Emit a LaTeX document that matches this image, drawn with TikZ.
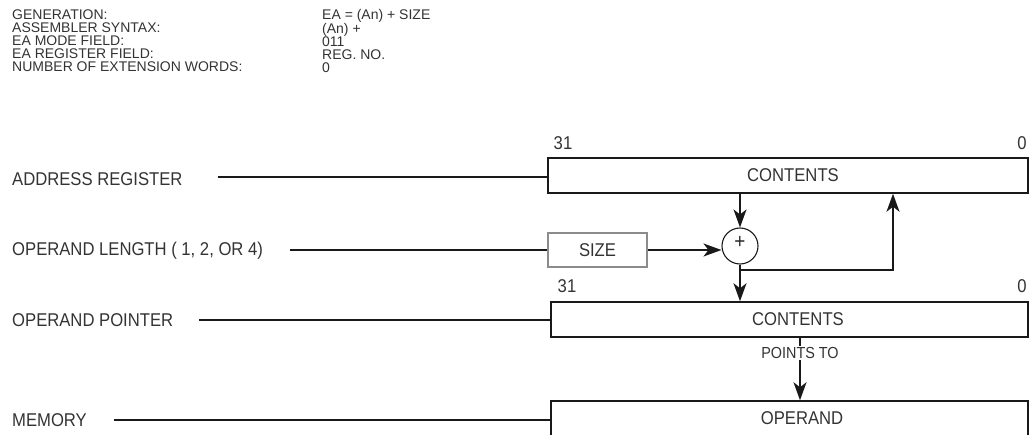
\documentclass[tikz,border=0pt]{standalone}
\usepackage{fontspec}
\setmainfont{Liberation Sans}[FakeStretch=0.9]
\newfontfamily\hdrfont{Liberation Sans}
\usetikzlibrary{arrows.meta}
\begin{document}
\begin{tikzpicture}[x=1pt,y=-1pt,
  hdr/.style={inner sep=0pt,anchor=north west,align=left,font=\hdrfont\fontsize{14}{12.9}\selectfont,text=black!80},
  txt/.style={inner sep=0pt,font=\fontsize{18.5}{20}\selectfont,text=black!80},
  lbl/.style={txt,anchor=west},
  small/.style={inner sep=0pt,font=\fontsize{16}{17}\selectfont,text=black!80},
  regbox/.style={draw=black!90,line width=1.5pt,inner sep=0pt,minimum height=35pt},
  sizebox/.style={draw=black!45,line width=1.2pt,inner sep=0pt},
  wire/.style={line width=1.6pt,black!90},
  arr/.style={wire,-{Stealth[length=18pt,width=13pt,inset=5pt]}}]
\useasboundingbox (0,0) rectangle (1030,435);
% header
\node[hdr] (hl) at (12,9.5) {GENERATION:\\ASSEMBLER SYNTAX:\\EA MODE FIELD:\\EA REGISTER FIELD:\\NUMBER OF EXTENSION WORDS:};
\node[hdr] (hv) at (322,9.5) {EA = (An) + SIZE\\(An) +\\011\\REG. NO.\\0};
% bit numbers
\node[txt] (b31a) at (563,143) {31};
\node[txt] (b0a) at (1022,143) {0};
\node[txt] (b31b) at (567,286) {31};
\node[txt] (b0b) at (1022,286) {0};
% boxes
\node[regbox,minimum width=480pt] (ar) at (788,175.5) {};
\node[txt] (arT) at (793,175) {CONTENTS};
\node[sizebox,minimum width=99pt,minimum height=34pt] (sz) at (597.5,250) {};
\node[txt] (szT) at (597.5,250) {SIZE};
\node[circle,draw=black!90,line width=1.1pt,minimum size=36pt,inner sep=0pt] (add) at (740,246) {};
\node[inner sep=0pt,font=\fontsize{21}{21}\selectfont,text=black!85] (plus) at (740,242) {+};
\node[regbox,minimum width=477pt] (op) at (789.5,319.5) {};
\node[txt] (opT) at (798,319) {CONTENTS};
\node[small] (pt) at (800,353) {POINTS TO};
\begin{scope}
\clip (0,0) rectangle (1030,435);
\node[regbox,minimum width=477pt,minimum height=60pt] (mem) at (789.5,431) {};
\end{scope}
\node[txt] (memT) at (802,418) {OPERAND};
% left labels
\node[lbl] (lAR) at (12,179) {ADDRESS REGISTER};
\node[lbl] (lOL) at (12,251) {OPERAND LENGTH ( 1, 2, OR 4)};
\node[lbl] (lOP) at (12,320) {OPERAND POINTER};
\node[lbl] (lMEM) at (12,420) {MEMORY};
\coordinate (cAR) at (218,177);
\coordinate (cOL) at (290,250);
\coordinate (cOP) at (199,320);
\coordinate (cMEM) at (114,420);
\draw[wire] (cAR) -- (cAR -| ar.west);
\draw[wire] (cOL) -- (sz.west);
\draw[wire] (cOP) -- (cOP -| op.west);
\draw[wire] (cMEM) -- (cMEM -| mem.west);
% connectors
\draw[arr] (ar.south -| add) -- (add.north);
\draw[arr] (sz.east) -- (sz.east -| add.west);
\draw[arr] (add.south) -- (add.south |- op.north);
\coordinate (fb) at (893,270);
\draw[arr] (add.south |- fb) -- (fb) -- (fb |- ar.south);
\draw[wire] (pt.center |- op.south) -- ([yshift=1pt]pt.north);
\draw[arr] ([yshift=-1pt]pt.south) -- (pt.center |- mem.north);
\end{tikzpicture}
\end{document}
